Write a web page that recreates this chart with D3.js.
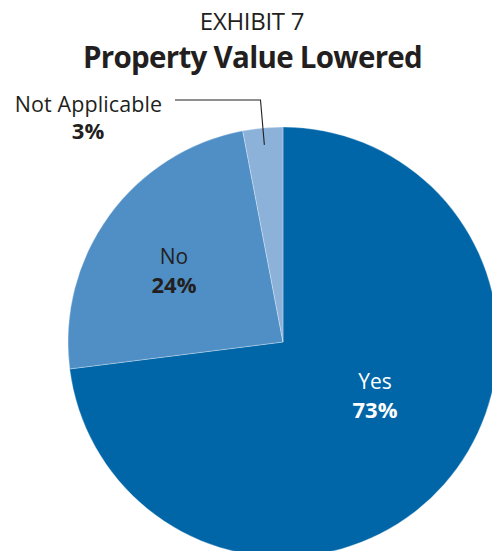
<!DOCTYPE html>
<html>
<head>
<meta charset="utf-8">
<script src="https://cdn.jsdelivr.net/npm/d3@7"></script>
<style>
  html, body { margin: 0; padding: 0; background: #fff; }
  svg { display: block; font-family: "Open Sans", "Noto Sans", sans-serif; }
</style>
</head>
<body>
<svg id="chart" width="492" height="551"></svg>
<script>
// Survey responses: share of respondents reporting lowered property value
const categories = ["Yes", "No", "Not Applicable"];
const percents = [73, 24, 3];
const sliceColors = ["#0066a8", "#4f8fc6", "#8cb2da"];

const svg = d3.select("#chart");
const ink = "#231f20";

// Titles
svg.append("text")
  .attr("x", 252).attr("y", 30)
  .attr("text-anchor", "middle")
  .attr("font-size", 24)
  .attr("letter-spacing", -0.3)
  .attr("fill", ink)
  .text("EXHIBIT 7");

svg.append("text")
  .attr("x", 252.5).attr("y", 68)
  .attr("text-anchor", "middle")
  .attr("font-size", 29.5)
  .attr("font-weight", "bold")
  .attr("letter-spacing", -0.7)
  .attr("fill", ink)
  .text("Property Value Lowered");

// Pie
const cx = 283, cy = 342, radius = 215;
const pie = d3.pie().sort(null).value(d => d.value);
const data = categories.map((c, i) => ({ name: c, value: percents[i], color: sliceColors[i] }));
const arcs = pie(data);
const arc = d3.arc().innerRadius(0).outerRadius(radius);

const g = svg.append("g").attr("transform", `translate(${cx},${cy})`);
g.selectAll("path")
  .data(arcs)
  .join("path")
  .attr("d", arc)
  .attr("fill", d => d.data.color)
  .attr("stroke", "#ffffff")
  .attr("stroke-opacity", 0.5)
  .attr("stroke-width", 0.6);

// In-slice labels
const inside = [
  { idx: 0, x: 375, y: 389, fill: "#ffffff" },
  { idx: 1, x: 174, y: 264, fill: ink }
];
inside.forEach(p => {
  const d = arcs[p.idx].data;
  svg.append("text")
    .attr("x", p.x).attr("y", p.y)
    .attr("text-anchor", "middle")
    .attr("font-size", 21)
    .attr("fill", p.fill)
    .text(d.name);
  svg.append("text")
    .attr("x", p.x).attr("y", p.y + 29)
    .attr("text-anchor", "middle")
    .attr("font-size", 22)
    .attr("font-weight", "bold")
    .attr("fill", p.fill)
    .text(d.value + "%");
});

// Outside label for the smallest slice, with leader line
const na = arcs[2];
const naMid = (na.startAngle + na.endAngle) / 2;
const tipR = radius - 17;
const tipX = cx + Math.sin(naMid) * tipR;
const tipY = cy - Math.cos(naMid) * tipR;
svg.append("path")
  .attr("d", `M175,100 L260.5,100 L${tipX},${tipY}`)
  .attr("fill", "none")
  .attr("stroke", ink)
  .attr("stroke-width", 1.1);

svg.append("text")
  .attr("x", 88.5).attr("y", 111.5)
  .attr("text-anchor", "middle")
  .attr("font-size", 21.5)
  .attr("letter-spacing", 0.1)
  .attr("fill", ink)
  .text(na.data.name);
svg.append("text")
  .attr("x", 88).attr("y", 138.5)
  .attr("text-anchor", "middle")
  .attr("font-size", 22)
  .attr("font-weight", "bold")
  .attr("fill", ink)
  .text(na.data.value + "%");
</script>
</body>
</html>
